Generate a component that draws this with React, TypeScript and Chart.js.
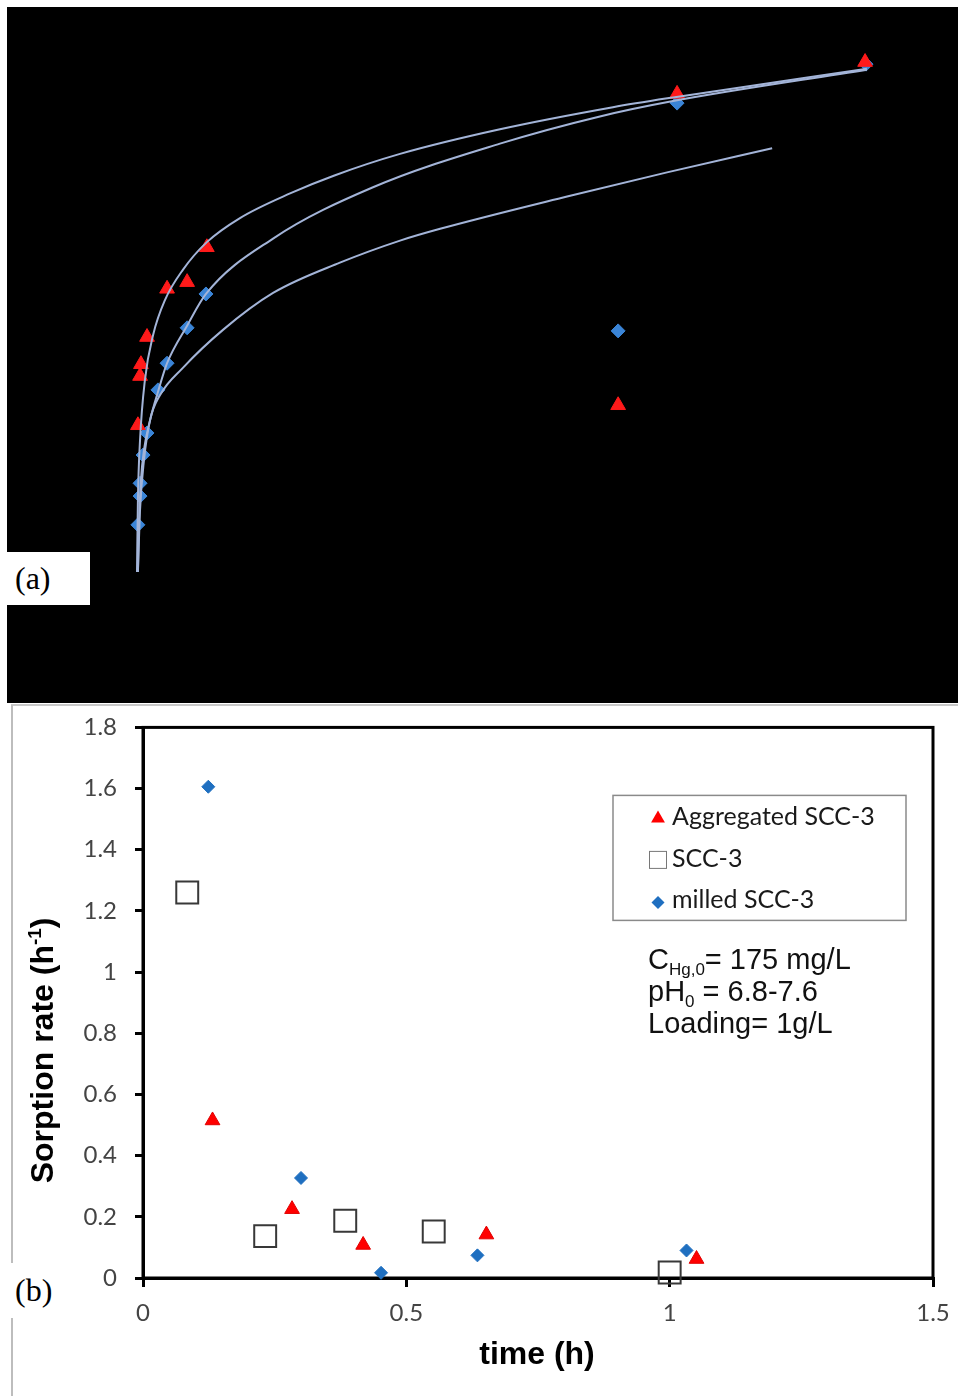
import React, { useEffect, useRef } from "react";
import { Chart, registerables } from "chart.js";

Chart.register(...registerables);

// ---------------- Panel (a): uptake curves (axes hidden in the original) ----------------
const aAggX = [0.03, 0.1, 0.13, 0.33, 0.99, 1.65, 2.3, 15.84, 17.78, 23.97];
const aAggY = [28.6, 38.2, 40.5, 45.8, 55.2, 56.5, 63.3, 32.5, 93.2, 99.4];
const aMilledX = [0.03, 0.1, 0.1, 0.2, 0.33, 0.69, 0.99, 1.65, 2.27, 15.84, 17.78, 24.0];
const aMilledY = [9.2, 14.8, 17.3, 22.8, 27.1, 35.5, 40.7, 47.6, 54.2, 47.0, 91.4, 99.0];
const aFit1X = [0, 0.03, 0.1, 0.26, 0.53, 0.92, 1.51, 2.3, 3.39, 5.04, 6.5, 8.66, 11.95, 15.67, 17.65, 24.03];
const aFit1Y = [0, 14.0, 25.7, 37.4, 46.2, 53.0, 58.9, 64.3, 69.0, 73.8, 77.3, 81.5, 86.3, 90.6, 92.5, 98.1];
const aFit2X = [0.03, 0.07, 0.13, 0.23, 0.43, 0.69, 0.99, 1.65, 2.27, 4.48, 7.77, 11.95, 15.24, 17.65, 24.03];
const aFit2Y = [0, 10.1, 17.9, 23.8, 29.6, 35.1, 40.7, 48.0, 54.2, 65.0, 75.0, 83.5, 88.8, 91.8, 97.9];
const aFit3X = [0.03, 0.1, 0.23, 0.43, 0.76, 1.51, 2.83, 4.48, 6.68, 8.66, 9.98, 14.16, 17.45, 20.91];
const aFit3Y = [0, 12.1, 21.8, 29.6, 34.5, 39.8, 47.2, 54.4, 60.3, 64.6, 66.9, 73.2, 77.9, 82.6];

// ---------------- Panel (b): sorption rate vs time ----------------
const bLabels = ["Aggregated SCC-3", "SCC-3", "milled SCC-3"];
const bAggX = [0.132, 0.283, 0.418, 0.652, 1.051];
const bAggY = [0.515, 0.225, 0.108, 0.142, 0.062];
const bSccX = [0.084, 0.232, 0.384, 0.552, 1.0];
const bSccY = [1.26, 0.137, 0.187, 0.152, 0.018];
const bMilledX = [0.124, 0.3, 0.452, 0.635, 1.032];
const bMilledY = [1.606, 0.327, 0.017, 0.074, 0.09];
const bXTickValues = [0, 0.5, 1, 1.5];
const bXTickLabels = ["0", "0.5", "1", "1.5"];
const bYTickValues = [0, 0.2, 0.4, 0.6, 0.8, 1, 1.2, 1.4, 1.6, 1.8];
const bYTickLabels = ["0", "0.2", "0.4", "0.6", "0.8", "1", "1.2", "1.4", "1.6", "1.8"];

const pts = (xs: number[], ys: number[]) => xs.map((x, i) => ({ x, y: ys[i] }));

const RED = "#ff0000";
const BLUE = "#1f6fc0";
const CURVE = "#a3b4d8";
const SANS = '"Liberation Sans", Arial, sans-serif';
const LEG = 'Lato, "Open Sans", sans-serif';

type Part = { t: string; size: number; dy?: number; bold?: boolean };

function drawRich(ctx: CanvasRenderingContext2D, x: number, y: number, parts: Part[], family: string) {
  let cx = x;
  for (const p of parts) {
    ctx.font = `${p.bold ? "bold " : ""}${p.size}px ${family}`;
    ctx.fillText(p.t, cx, y + (p.dy || 0));
    cx += ctx.measureText(p.t).width;
  }
  return cx - x;
}
function richWidth(ctx: CanvasRenderingContext2D, parts: Part[], family: string) {
  let w = 0;
  for (const p of parts) {
    ctx.font = `${p.bold ? "bold " : ""}${p.size}px ${family}`;
    w += ctx.measureText(p.t).width;
  }
  return w;
}

const panelBDecor = {
  id: "panelBDecor",
  beforeDatasetsDraw(chart: any) {
    const { ctx, chartArea: a } = chart;
    ctx.save();
    ctx.strokeStyle = "#000";
    ctx.lineWidth = 3;
    ctx.strokeRect(a.left, a.top, a.right - a.left, a.bottom - a.top);
    ctx.restore();
  },
  afterDraw(chart: any) {
    const { ctx, chartArea: a } = chart;
    ctx.save();
    // legend box
    const lx = a.left + 470, ly = a.top + 68;
    ctx.strokeStyle = "#8a8a8a";
    ctx.lineWidth = 1.5;
    ctx.strokeRect(lx, ly, 293, 125);
    const rows = [a.top + 98, a.top + 140, a.top + 181];
    const mx = a.left + 515;
    // triangle
    ctx.fillStyle = RED;
    ctx.beginPath();
    const ty = rows[0] - 7, tr = 8;
    ctx.moveTo(mx, ty - tr);
    ctx.lineTo(mx + tr * 0.866, ty + tr / 2);
    ctx.lineTo(mx - tr * 0.866, ty + tr / 2);
    ctx.closePath();
    ctx.fill();
    // square
    ctx.strokeStyle = "#777";
    ctx.lineWidth = 1;
    ctx.strokeRect(mx - 8.5, rows[1] - 16, 17, 17);
    // diamond
    ctx.fillStyle = BLUE;
    ctx.beginPath();
    const dy = rows[2] - 6, dr = 6.5;
    ctx.moveTo(mx - dr, dy);
    ctx.lineTo(mx, dy - dr);
    ctx.lineTo(mx + dr, dy);
    ctx.lineTo(mx, dy + dr);
    ctx.closePath();
    ctx.fill();
    ctx.fillStyle = "#1a1a1a";
    ctx.font = `25px ${LEG}`;
    ctx.textBaseline = "alphabetic";
    ctx.textAlign = "left";
    const labels = chart.data.datasets.map((d: any) => d.label);
    labels.forEach((t: string, i: number) => ctx.fillText(t, a.left + 529, rows[i]));

    // annotation
    ctx.fillStyle = "#111";
    const ax = a.left + 505;
    drawRich(ctx, ax, a.top + 242, [
      { t: "C", size: 29 },
      { t: "Hg,0", size: 17, dy: 6 },
      { t: "= 175 mg/L", size: 29 },
    ], SANS);
    drawRich(ctx, ax, a.top + 274, [
      { t: "pH", size: 29 },
      { t: "0", size: 17, dy: 6 },
      { t: " = 6.8-7.6", size: 29 },
    ], SANS);
    drawRich(ctx, ax, a.top + 306, [{ t: "Loading= 1g/L", size: 29 }], SANS);

    // x title
    ctx.fillStyle = "#000";
    ctx.font = `bold 32px ${SANS}`;
    ctx.textAlign = "center";
    ctx.fillText("time (h)", 537, a.bottom + 86);

    // y title (rotated, with superscript)
    ctx.textAlign = "left";
    const yparts: Part[] = [
      { t: "Sorption rate (h", size: 32, bold: true },
      { t: "-1", size: 19, bold: true, dy: -12 },
      { t: ")", size: 32, bold: true },
    ];
    const w = richWidth(ctx, yparts, SANS);
    ctx.translate(53, a.top + 323);
    ctx.rotate(-Math.PI / 2);
    drawRich(ctx, -w / 2, 0, yparts, SANS);
    ctx.restore();
  },
};

export default function App() {
  const topRef = useRef<HTMLCanvasElement>(null);
  const botRef = useRef<HTMLCanvasElement>(null);

  useEffect(() => {
    const curve = (xs: number[], ys: number[]) => ({
      data: pts(xs, ys),
      showLine: true,
      borderColor: CURVE,
      borderWidth: 2,
      pointRadius: 0,
      cubicInterpolationMode: "monotone",
      clip: false,
    });
    const top = new Chart(topRef.current as HTMLCanvasElement, {
      type: "scatter",
      data: {
        datasets: [
          curve(aFit1X, aFit1Y),
          curve(aFit2X, aFit2Y),
          curve(aFit3X, aFit3Y),
          {
            data: pts(aAggX, aAggY),
            pointStyle: "triangle",
            pointRadius: 8.5,
            backgroundColor: "#ff1a1a",
            borderColor: "#ff1a1a",
            borderWidth: 1,
            clip: false,
          },
          {
            data: pts(aMilledX, aMilledY),
            pointStyle: "rectRot",
            pointRadius: 7,
            backgroundColor: "#3a84d6",
            borderColor: "#3a84d6",
            borderWidth: 1,
            clip: false,
          },
        ],
      } as any,
      options: {
        animation: false,
        responsive: false,
        maintainAspectRatio: false,
        events: [],
        layout: { padding: { left: 130, right: 92, top: 52, bottom: 131 } },
        scales: {
          x: { type: "linear", min: 0, max: 24, display: false },
          y: { type: "linear", min: 0, max: 100, display: false },
        },
        plugins: { legend: { display: false }, tooltip: { enabled: false } },
      } as any,
    });

    const bot = new Chart(botRef.current as HTMLCanvasElement, {
      type: "scatter",
      data: {
        datasets: [
          {
            label: bLabels[0],
            data: pts(bAggX, bAggY),
            pointStyle: "triangle",
            pointRadius: 8.5,
            backgroundColor: RED,
            borderColor: "#e00000",
            borderWidth: 1,
            clip: false,
          },
          {
            label: bLabels[1],
            data: pts(bSccX, bSccY),
            pointStyle: "rect",
            pointRadius: 15.5,
            backgroundColor: "rgba(255,255,255,0)",
            borderColor: "#383838",
            borderWidth: 2,
            clip: false,
          },
          {
            label: bLabels[2],
            data: pts(bMilledX, bMilledY),
            pointStyle: "rectRot",
            pointRadius: 6.5,
            backgroundColor: BLUE,
            borderColor: BLUE,
            borderWidth: 1,
            clip: false,
          },
        ],
      } as any,
      options: {
        animation: false,
        responsive: false,
        maintainAspectRatio: false,
        events: [],
        layout: { padding: { left: 0, right: 29, top: 32, bottom: 0 } },
        scales: {
          x: {
            type: "linear",
            min: 0,
            max: 1.5,
            afterBuildTicks: (s: any) => {
              s.ticks = bXTickValues.map((v) => ({ value: v }));
            },
            afterFit: (s: any) => {
              s.height = 118;
            },
            ticks: {
              callback: (_v: any, i: number) => bXTickLabels[i],
              font: { family: LEG, size: 24 },
              color: "#444",
              padding: 12,
              maxRotation: 0,
              autoSkip: false,
            },
            grid: { display: true, drawOnChartArea: false, drawTicks: true, tickLength: 9, lineWidth: 3, color: "#000" },
            border: { display: true, width: 3, color: "#000" },
          },
          y: {
            type: "linear",
            min: 0,
            max: 1.8,
            afterBuildTicks: (s: any) => {
              s.ticks = bYTickValues.map((v) => ({ value: v }));
            },
            afterFit: (s: any) => {
              s.width = 143;
            },
            ticks: {
              callback: (_v: any, i: number) => bYTickLabels[i],
              font: { family: LEG, size: 24 },
              color: "#444",
              padding: 18,
              autoSkip: false,
            },
            grid: { display: true, drawOnChartArea: false, drawTicks: true, tickLength: 8, lineWidth: 3, color: "#000" },
            border: { display: true, width: 3, color: "#000" },
          },
        },
        plugins: { legend: { display: false }, tooltip: { enabled: false } },
      } as any,
      plugins: [panelBDecor as any],
    });

    return () => {
      top.destroy();
      bot.destroy();
    };
  }, []);

  const labelBox = (top: number, h: number, w: number, text: string) => (
    <div
      style={{
        position: "absolute",
        left: 7,
        top,
        width: w,
        height: h,
        background: "#fff",
        color: "#000",
        fontFamily: '"Liberation Serif", "Times New Roman", serif',
        fontSize: 32,
        lineHeight: `${h}px`,
        paddingLeft: 8,
        boxSizing: "border-box",
      }}
    >
      {text}
    </div>
  );

  return (
    <div style={{ position: "absolute", left: 0, top: 0, width: 958, height: 1396, overflow: "hidden", background: "#fff" }}>
      <div style={{ position: "absolute", left: 7, top: 7, width: 951, height: 696, background: "#000" }} />
      <canvas ref={topRef} width={951} height={696} style={{ position: "absolute", left: 7, top: 7, width: 951, height: 696 }} />
      {labelBox(552, 53, 83, "(a)")}
      <canvas ref={botRef} width={962} height={701} style={{ position: "absolute", left: 0, top: 695, width: 962, height: 701 }} />
      <div style={{ position: "absolute", left: 11, top: 704, width: 947, height: 2, background: "#c8c8c8" }} />
      <div style={{ position: "absolute", left: 11, top: 705, width: 2, height: 691, background: "#bdbdbd" }} />
      {labelBox(1263, 55, 60, "(b)")}
    </div>
  );
}
